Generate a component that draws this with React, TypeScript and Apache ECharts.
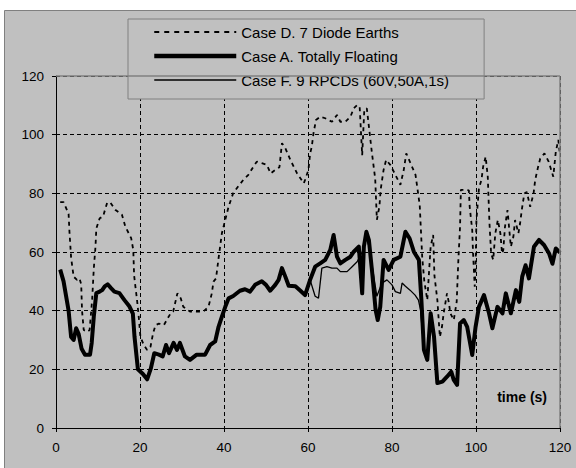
import React, { useEffect, useRef } from "react";
import * as echarts from "echarts";

// Case A. Totally Floating (thick line)
const timeA = [1, 1.8, 3, 3.6, 4.2, 4.8, 5.4, 6.1, 6.9, 8.1, 8.5, 9, 9.6, 10.4, 11, 11.6, 12.3, 13.1, 13.9, 15.1, 16.3, 17.5, 18.3, 18.7, 19.5, 20.7, 21.7, 22.6, 23.4, 24.5, 25.4, 26.2, 26.9, 28, 28.8, 29.5, 30.7, 31.9, 33.5, 35.5, 36.7, 37.9, 38.7, 39.5, 40.3, 41.1, 42.2, 43.8, 45, 46.2, 47.4, 49, 50, 51, 52.2, 53, 53.8, 54.6, 55.4, 57, 58.2, 59.3, 60.5, 61.7, 62.9, 64.1, 65.3, 66.1, 66.9, 67.7, 68.9, 70.1, 70.9, 72.1, 72.9, 73.3, 73.9, 74.5, 75.3, 76.1, 76.6, 77.2, 78, 79.2, 80.4, 82, 83.2, 84.2, 85.2, 86.4, 87, 87.6, 88.4, 89.2, 90, 90.8, 92, 93.1, 94.1, 94.7, 95.5, 96.2, 97.1, 97.9, 99.1, 99.9, 100.7, 101.9, 103.1, 103.9, 105.1, 106.3, 107.1, 108.3, 109.5, 110.3, 111, 111.8, 112.6, 113.8, 115, 116.2, 117.4, 118.2, 119, 120];
const valueA = [54, 50, 40, 31, 30, 34, 32, 27, 25, 25, 29, 38, 46, 46.5, 47, 48.3, 49, 47.7, 46.5, 46, 43.6, 41.4, 39, 31, 20, 18.4, 16.6, 20.4, 25.5, 25, 24.4, 28.3, 25.5, 29, 26.6, 29, 24.4, 23.2, 25, 25, 28.3, 29.5, 34.5, 38, 41.3, 44.2, 45, 46.8, 47.3, 46.5, 48.8, 50, 48.8, 46.8, 48.8, 50.5, 54.5, 51.6, 48.5, 48.3, 46.8, 45.3, 50.5, 55, 56.1, 57.3, 60.7, 65.8, 58.4, 56.1, 57.3, 58.4, 60.1, 61.8, 45.9, 61.8, 66.9, 64.1, 52.7, 40.2, 36.8, 41.3, 57.3, 53.9, 57.3, 58.4, 66.9, 64.6, 60.1, 57.3, 43.6, 26.6, 23.2, 39.1, 31.2, 15.3, 15.8, 17.5, 19.2, 16.4, 14.7, 35.6, 36.8, 34.5, 24.9, 34.5, 41.3, 45.3, 39.1, 34, 41.3, 39.1, 45.9, 39.1, 47, 43, 51.6, 55.5, 51, 61.8, 64.1, 62.4, 59.5, 56, 61.2, 59.8];

// Case F. 9 RPCDs: follows case A except where it separates (about 61 s to 87 s)
const timeFMid = [61.7, 62.5, 63.3, 64.5, 65.7, 66.9, 67.7, 69.3, 70.5, 71.7, 72.9, 73.9, 74.5, 75.3, 76.4, 77.6, 78.8, 80, 80.8, 82, 82.4, 83.2, 84.3, 85.5, 86.3, 86.8];
const valueFMid = [44.9, 44.3, 54.5, 55, 54.5, 54.5, 53.3, 53.3, 55, 56.7, 60, 64.6, 62, 55, 44.9, 49.4, 50.5, 48.8, 46.5, 45.9, 49.4, 48.3, 47, 45.3, 43.6, 40.2];

// Case D. 7 Diode Earths (dashed line)
const timeD = [1, 1.8, 3, 3.2, 3.6, 4.2, 5, 5.6, 6, 6.2, 6.6, 7.4, 8, 8.6, 9, 9.4, 9.6, 10.4, 11.2, 12.2, 13, 14.1, 15.7, 16.5, 17.9, 18.4, 18.6, 18.9, 19.3, 19.7, 20.1, 20.9, 21.7, 22.5, 23.1, 23.7, 24.5, 25.7, 26.6, 27.3, 27.9, 28.9, 29.7, 30.3, 31.9, 33.5, 35.1, 36.3, 37.1, 37.5, 38.1, 38.7, 39.5, 40.3, 41.1, 42.2, 43.4, 44.6, 45.8, 47, 47.8, 49, 50.2, 51.1, 52.2, 53.2, 53.5, 53.8, 54.6, 55.8, 57.4, 59, 59.3, 60.1, 60.5, 60.9, 61.3, 61.9, 62.9, 64.1, 65.7, 66.9, 67.7, 68.9, 70.1, 70.9, 71.7, 72.3, 72.9, 73.4, 74, 74.4, 75.2, 76, 76.4, 77, 77.3, 78, 78.6, 79.6, 80.8, 82, 82.8, 83.4, 84.4, 85.6, 86.6, 87.2, 87.7, 88.4, 89.2, 89.8, 90.1, 90.8, 91.4, 91.9, 92.3, 93.1, 93.5, 93.9, 94.7, 95.4, 95.8, 96.2, 96.4, 97.1, 98.3, 98.5, 99.1, 99.3, 99.7, 99.9, 100.1, 100.7, 101.3, 101.7, 102.3, 102.8, 103.2, 103.6, 104.1, 104.6, 105.2, 105.8, 106.2, 106.5, 106.9, 107.5, 108, 108.3, 108.9, 109.3, 110.1, 110.5, 110.9, 111.5, 112.1, 112.9, 113.7, 114.1, 114.7, 115.3, 116.3, 117.3, 118.4, 119, 119.6, 120];
const valueD = [77, 77, 73, 67, 58, 51.6, 50.5, 51, 49, 40, 33.4, 32.8, 33.4, 43.6, 54.4, 61.8, 68, 71.5, 72.1, 76.9, 76.7, 74.4, 72.7, 68.7, 64.7, 60.7, 52, 48.3, 43.6, 37.9, 31.1, 28.3, 26.6, 27.7, 32.2, 35.1, 35.6, 35.1, 37.4, 39.1, 39.7, 45.9, 44.2, 41.3, 39.7, 39.7, 39.7, 41.3, 45.9, 49.9, 51, 57.8, 66.4, 71, 75.5, 80.1, 82.4, 84.6, 86.3, 89.1, 90.8, 90.3, 89.7, 86.8, 88, 88.9, 93.1, 97.1, 95.4, 91.4, 86.8, 83.4, 84.6, 88, 93.6, 95.9, 100.4, 105, 106.1, 105.6, 104.4, 106.7, 104.4, 104.4, 106.1, 109, 110.1, 109.5, 93, 108.4, 109, 104, 94, 85, 71, 75.5, 81.3, 88, 91.4, 89.7, 86.3, 82.9, 88, 93.6, 90.3, 86.3, 76, 58, 50, 43.6, 61.8, 65.8, 52, 43.6, 31, 34.5, 39.1, 45.9, 43, 39.1, 36.8, 43, 57.3, 68.6, 81.2, 81.2, 81, 75.4, 67.5, 59.5, 48.2, 54.9, 70.9, 81.7, 84.6, 89.1, 92.5, 85.7, 70, 59.5, 57.3, 66.4, 70.9, 66.4, 59.5, 60.7, 68.6, 74.3, 66.4, 61.8, 65.2, 70.9, 66.4, 69.8, 74.3, 79.9, 80.5, 75.4, 79.9, 84.6, 88.5, 91.9, 93.6, 90.8, 85.7, 94.2, 98.2, 93.1];

const xTicks = [0, 20, 40, 60, 80, 100, 120];
const yTicks = [0, 20, 40, 60, 80, 100, 120];
const seriesNames = ["Case D. 7 Diode Earths", "Case A. Totally Floating", "Case F. 9 RPCDs (60V,50A,1s)"];
const axisTitle = "time (s)";

const FONT = "'Liberation Sans', Arial, sans-serif";

export default function App() {
  const ref = useRef<HTMLDivElement>(null);

  useEffect(() => {
    if (!ref.current) return;
    const chart = echarts.init(ref.current, null, { renderer: "svg" });

    const dataA = timeA.map((t, i) => [t, valueA[i]]);
    const dataD = timeD.map((t, i) => [t, valueD[i]]);
    const dataF: number[][] = [];
    timeA.forEach((t, i) => {
      if (t <= 60.5) dataF.push([t, valueA[i]]);
    });
    timeFMid.forEach((t, i) => dataF.push([t, valueFMid[i]]));
    timeA.forEach((t, i) => {
      if (t >= 87.6) dataF.push([t, valueA[i]]);
    });

    const gridLeft = 56;
    const gridTop = 76;
    const gridRight = 16;
    const gridBottom = 40;
    const W = 576;
    const H = 468;

    const styleD = { color: "#000", width: 1.8, type: [4, 4] as number[] };
    const styleA = { color: "#000", width: 4, join: "round" as const };
    const styleF = { color: "#000", width: 1.3 };

    chart.setOption({
      animation: false,
      backgroundColor: "#ffffff",
      textStyle: { fontFamily: FONT },
      grid: {
        left: gridLeft,
        top: gridTop,
        right: gridRight,
        bottom: gridBottom,
        show: false,
      },
      legend: {
        show: true,
        data: [
          { name: seriesNames[0], lineStyle: { width: 2, type: [5, 5], color: "#000" } },
          { name: seriesNames[1], lineStyle: { width: 4.5, type: "solid", color: "#000" } },
          { name: seriesNames[2], lineStyle: { width: 1.5, type: "solid", color: "#000" } },
        ],
        orient: "vertical",
        left: 128,
        top: 19,
        padding: [5, 35, 11, 24],
        itemWidth: 82,
        itemHeight: 14,
        itemGap: 8,
        backgroundColor: "#c0c0c0",
        borderColor: "#808080",
        borderWidth: 1,
        selectedMode: false,
        itemStyle: { opacity: 0 },
        textStyle: { fontFamily: FONT, fontSize: 15, color: "#000", lineHeight: 16 },
      },
      xAxis: {
        type: "value",
        min: xTicks[0],
        max: xTicks[xTicks.length - 1],
        interval: 20,
        axisLine: { show: true, onZero: false, lineStyle: { color: "#000", width: 1 } },
        axisTick: { show: true, length: 4, lineStyle: { color: "#000" } },
        axisLabel: { color: "#000", fontSize: 13.5, fontFamily: FONT, margin: 12 },
        splitLine: { show: true, lineStyle: { color: "#000", type: [4, 3], width: 1 } },
      },
      yAxis: {
        type: "value",
        min: yTicks[0],
        max: yTicks[yTicks.length - 1],
        interval: 20,
        axisLine: { show: true, lineStyle: { color: "#000", width: 1 } },
        axisTick: { show: true, length: 4, lineStyle: { color: "#000" } },
        axisLabel: { color: "#000", fontSize: 13.5, fontFamily: FONT, margin: 12 },
        splitLine: { show: true, lineStyle: { color: "#000", type: [4, 3], width: 1 } },
      },
      graphic: [
        {
          type: "rect",
          z: -10,
          silent: true,
          shape: { x: 4.5, y: 10.5, width: W + 10, height: H + 10 },
          style: { fill: "#c0c0c0", stroke: "#808080", lineWidth: 1 },
        },
        {
          type: "line",
          z: 50,
          silent: true,
          shape: { x1: gridLeft, y1: gridTop, x2: W - gridRight, y2: gridTop },
          style: { stroke: "#808080", lineWidth: 1.5 },
        },
        {
          type: "line",
          z: 50,
          silent: true,
          shape: { x1: W - gridRight, y1: gridTop, x2: W - gridRight, y2: H - gridBottom },
          style: { stroke: "#808080", lineWidth: 1.5 },
        },
        {
          type: "text",
          z: 60,
          silent: true,
          x: 547,
          y: 397,
          style: {
            text: axisTitle,
            fontFamily: FONT,
            fontSize: 14,
            fontWeight: "bold",
            fill: "#000",
            align: "right",
            verticalAlign: "middle",
          },
        },
      ],
      series: [
        {
          name: seriesNames[0],
          type: "line",
          data: dataD,
          symbol: "none",
          showSymbol: false,
          lineStyle: styleD,
          itemStyle: { color: "#000" },
          z: 3,
        },
        {
          name: seriesNames[1],
          type: "line",
          data: dataA,
          symbol: "none",
          showSymbol: false,
          lineStyle: styleA,
          itemStyle: { color: "#000" },
          z: 4,
        },
        {
          name: seriesNames[2],
          type: "line",
          data: dataF,
          symbol: "none",
          showSymbol: false,
          lineStyle: styleF,
          itemStyle: { color: "#000" },
          z: 5,
        },
      ],
    });

    return () => chart.dispose();
  }, []);

  return (
    <div style={{ position: "fixed", left: 0, top: 0, width: 576, height: 468, background: "#fff" }}>
      <div ref={ref} style={{ width: 576, height: 468 }} />
    </div>
  );
}
